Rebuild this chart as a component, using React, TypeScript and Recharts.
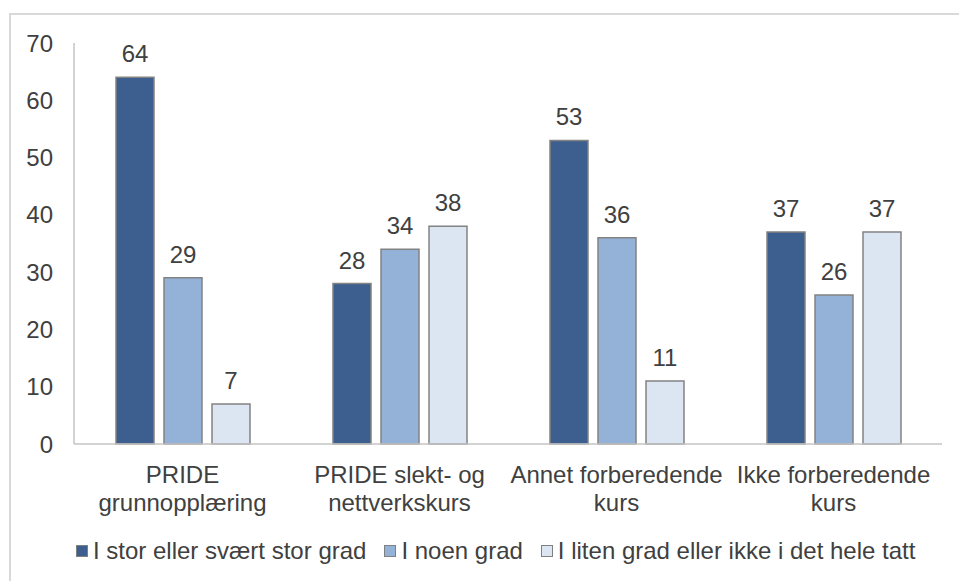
import React from 'react';
import { BarChart, Bar, XAxis, YAxis, LabelList, Legend } from 'recharts';

const categories = [
  'PRIDE grunnopplæring',
  'PRIDE slekt- og nettverkskurs',
  'Annet forberedende kurs',
  'Ikke forberedende kurs',
];
const categoryLines = [
  ['PRIDE', 'grunnopplæring'],
  ['PRIDE slekt- og', 'nettverkskurs'],
  ['Annet forberedende', 'kurs'],
  ['Ikke forberedende', 'kurs'],
];
const seriesNames = [
  'I stor eller svært stor grad',
  'I noen grad',
  'I liten grad eller ikke i det hele tatt',
];
const storGrad = [64, 28, 53, 37];
const noenGrad = [29, 34, 36, 26];
const litenGrad = [7, 38, 11, 37];
const yTicks = [0, 10, 20, 30, 40, 50, 60, 70];

const colors = ['#3D5F8F', '#94B2D7', '#DCE6F2'];
const keys = ['a', 'b', 'c'];
const FONT = '"Liberation Sans", Arial, sans-serif';
const TEXT = '#404040';

const data = categories.map((name, i) => ({
  name,
  a: storGrad[i],
  b: noenGrad[i],
  c: litenGrad[i],
}));

const XTick = (props: any) => {
  const { x, y, payload } = props;
  const idx = categories.indexOf(payload.value);
  const lines = idx >= 0 ? categoryLines[idx] : [payload.value];
  return (
    <g>
      {lines.map((l: string, i: number) => (
        <text
          key={i}
          x={x}
          y={y + 39 + i * 27.5}
          textAnchor="middle"
          fill={TEXT}
          style={{ fontFamily: FONT, fontSize: 24 }}
        >
          {l}
        </text>
      ))}
    </g>
  );
};

const LegendContent = () => (
  <div style={{ display: 'flex', alignItems: 'center', fontFamily: FONT, fontSize: 24, color: TEXT, whiteSpace: 'nowrap' }}>
    {seriesNames.map((n, i) => (
      <div key={n} style={{ display: 'flex', alignItems: 'center', marginRight: i < 2 ? 18 : 0 }}>
        <div
          style={{
            width: 10,
            height: 10,
            background: colors[i],
            border: '1.5px solid #808080',
            marginRight: 5,
          }}
        />
        <span>{n}</span>
      </div>
    ))}
  </div>
);

export default function App() {
  return (
    <div style={{ position: 'absolute', left: 0, top: 0, width: 959, height: 581, overflow: 'hidden', background: '#fff' }}>
      <div
        style={{
          position: 'absolute',
          left: 9,
          top: 13,
          width: 1000,
          height: 700,
          border: '2px solid #d9d9d9',
          boxSizing: 'border-box',
        }}
      />
      <div style={{ position: 'absolute', left: 0, top: 0 }}>
        <BarChart
          width={959}
          height={581}
          data={data}
          margin={{ top: 43, right: 17, left: 0, bottom: 77 }}
          barSize={38}
          barGap={10}
        >
          <XAxis
            dataKey="name"
            xAxisId="bottom"
            tick={<XTick />}
            tickLine={false}
            tickSize={0}
            tickMargin={0}
            height={60}
            axisLine={{ stroke: '#c4c4c4', strokeWidth: 1.5 }}
            interval={0}
          />
          <XAxis
            dataKey="name"
            xAxisId="top"
            orientation="top"
            tick={false}
            tickLine={false}
            height={0}
            axisLine={{ stroke: '#c4c4c4', strokeWidth: 1.5 }}
          />
          <YAxis
            yAxisId="left"
            domain={[0, 70]}
            ticks={yTicks}
            width={74}
            tickLine={false}
            tickSize={0}
            tickMargin={21}
            axisLine={{ stroke: '#c4c4c4', strokeWidth: 1.5 }}
            tick={{ fill: TEXT, fontSize: 24, fontFamily: FONT }}
          />
          <YAxis
            yAxisId="right"
            orientation="right"
            domain={[0, 70]}
            width={0}
            tick={false}
            tickLine={false}
            axisLine={{ stroke: '#c4c4c4', strokeWidth: 1.5 }}
          />
          {keys.map((k, i) => (
            <Bar
              key={k}
              dataKey={k}
              name={seriesNames[i]}
              xAxisId="bottom"
              yAxisId="left"
              fill={colors[i]}
              stroke="#828282"
              strokeWidth={1.5}
              isAnimationActive={false}
            >
              <LabelList
                dataKey={k}
                position="top"
                offset={15}
                fill={TEXT}
                style={{ fontFamily: FONT, fontSize: 24 }}
              />
            </Bar>
          ))}
          <Legend
            verticalAlign="middle"
            layout="horizontal"
            content={<LegendContent />}
            wrapperStyle={{ left: 76, top: 537, width: 'auto' }}
          />
        </BarChart>
      </div>
    </div>
  );
}
